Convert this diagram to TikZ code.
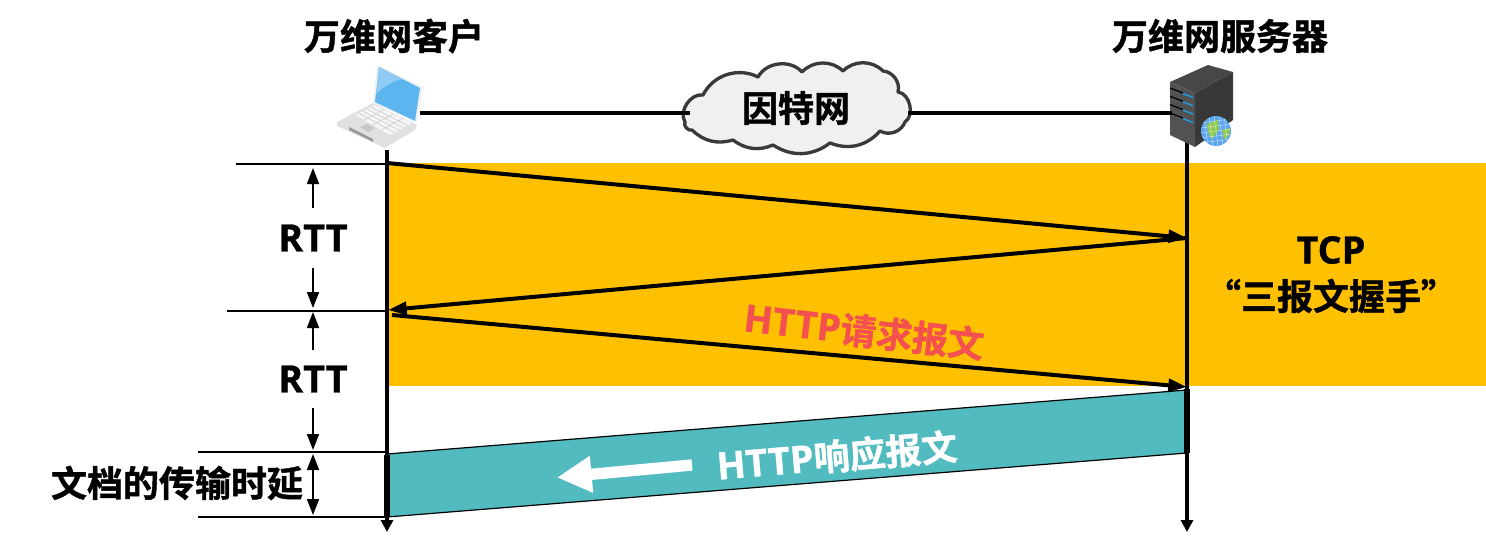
\documentclass[tikz,border=0pt]{standalone}
\usepackage{fontspec}
\setmainfont{Noto Sans CJK SC}[BoldFont={* Bold},BoldFeatures={FakeBold=1.2}]
\newfontfamily\latinb{Open Sans}[Scale=1.05,BoldFont={* Bold},BoldFeatures={FakeBold=0.8}]
\usetikzlibrary{arrows.meta}
\definecolor{orangeband}{HTML}{FFC000}
\definecolor{tealband}{HTML}{52BBC0}
\definecolor{reqred}{HTML}{F4504F}
\definecolor{cloudfill}{HTML}{F0F0F0}
\definecolor{cloudedge}{HTML}{3A3A3A}
\definecolor{screenblue}{HTML}{5DB5F0}
\definecolor{glossblue}{HTML}{8FCBF5}
\definecolor{globeblue}{HTML}{5AA5EE}
\definecolor{globegreen}{HTML}{8CC850}
\definecolor{stripeblue}{HTML}{1E9CE6}
\tikzset{
  x=0.75pt,y=-0.75pt,
  lbl/.style={font=\fontsize{27}{30}\selectfont\bfseries,inner sep=0pt,text=black},
  lifeline/.style={line width=3pt,-{Triangle[length=9pt,width=9pt]}},
  msg/.style={line width=3pt,-{Triangle[length=14pt,width=9.5pt]}},
  rule/.style={line width=1.4pt},
  dim/.style={line width=1.3pt,-{Triangle[length=12pt,width=9pt]}},
  dimboth/.style={line width=1.3pt,{Triangle[length=12pt,width=9pt]}-{Triangle[length=12pt,width=9pt]}},
  link/.style={line width=2.8pt},
  pt/.style={inner sep=0pt,minimum size=0pt}
}
\begin{document}
\begin{tikzpicture}
\useasboundingbox (0,0) rectangle (1486,546);
\fill[orangeband] (387,163) rectangle (1486,386);
\fill[tealband,draw=black,line width=0.9pt] (387,454) -- (1187,390) -- (1187,453) -- (387,517) -- cycle;
% anchors
\coordinate (cT) at (387,150); \coordinate (cE) at (387,532);
\coordinate (sT) at (1187,140); \coordinate (sE) at (1187,532);
\coordinate (c1) at (387,163); \coordinate (s1) at (1187,238);
\coordinate (c2) at (388,310); \coordinate (c2b) at (392,315); \coordinate (s2) at (1187,387);
\coordinate (c3) at (387,452); \coordinate (c4) at (387,517);
\coordinate (r1) at (236,164); \coordinate (r1e) at (387,164);
\coordinate (r2) at (227,311); \coordinate (r2e) at (387,311);
\coordinate (r3) at (198,452); \coordinate (r4) at (198,517);
% lifelines
\draw[lifeline] (cT) -- (cE);
\draw[lifeline] (sT) -- (sE);
\draw[line width=4.5pt] (386.5,455) -- (386.5,517);
\draw[line width=4.5pt] (1187,389) -- (1187,453);
% messages
\draw[msg] (c1) -- (s1);
\draw[msg] (s1) -- (c2);
\draw[msg] (c2b) -- (s2);
% rules
\draw[rule] (r1) -- (r1e);
\draw[rule] (r2) -- (r2e);
\draw[rule] (r3) -- (c3);
\draw[rule] (r4) -- (c4);
% cloud
\node[pt] (cloudL) at (690,113) {};
\node[pt] (cloudR) at (908,113) {};
\draw[fill=cloudfill,draw=cloudedge,line width=2.5pt,line join=round]
 (685,122) to[bend left=65] (703,95) to[bend left=45] (758,77) to[bend left=55] (802,72)
 to[bend left=45] (843,71) to[bend left=45] (883,71) to[bend left=50] (898,92)
 to[bend left=70] (905,122) to[bend left=50] (880,131) to[bend left=35] (830,143)
 to[bend left=35] (773,145) to[bend left=30] (733,140) to[bend left=30] (692,130)
 to[bend left=70] cycle;
\node[lbl] (inet) at (796,108) {因特网};
% laptop
\begin{scope}[shift={(320,50)}]
 \fill[black!12] (17,72) -- (53,53) -- (97,75) -- (95,80) -- (65,98) -- (17,76) -- cycle;
 \fill[black!6] (57,15) -- (103,37) -- (97,72) -- (53,53) -- cycle;
 \fill[black!40] (29,77) -- (53,89) -- (53,92) -- (29,80) -- cycle;
 \fill[black!4] (35,65) -- (55,55) -- (92,73) -- (70,85) -- cycle;
 \foreach \t in {.2,.4,.6,.8}{
  \draw[black!22,line width=.4pt] ({35+\t*20},{65-\t*10}) -- ({70+\t*22},{85-\t*12});
 }
 \foreach \t in {.25,.5,.75}{
  \draw[black!22,line width=.4pt] ({35+\t*35},{65+\t*20}) -- ({55+\t*37},{55+\t*18});
 }
 \fill[black!22] (40,77) -- (47,74) -- (55,78) -- (48,82) -- cycle;
 \fill[screenblue] (59,17) -- (100,38) -- (95,71) -- (55,52) -- cycle;
 \fill[glossblue] (59,17) -- (82,29) .. controls (72,31) and (62,38) .. (56,44) -- cycle;
\end{scope}
\node[pt] (laptop) at (420,113) {};
% server
\begin{scope}[shift={(1140,50)}]
 \fill[black!72] (30,32) -- (68,15) -- (93,22) -- (55,43) -- cycle;
 \fill[black!78] (55,43) -- (93,22) -- (93,70) -- (55,97) -- cycle;
 \fill[black!68] (30,32) -- (55,43) -- (55,97) -- (30,85) -- cycle;
 \foreach \yy in {0,8.3,16.6,25}{
  \draw[black,line width=.9pt] (30,{38+\yy}) -- (43,{43+\yy});
  \draw[stripeblue,line width=1.1pt] (43,{43.5+\yy}) -- (53,{47.5+\yy});
 }
 \fill[globeblue] (76,81) circle[radius=15];
 \fill[globegreen] (67,74) -- (78,70) -- (79,80) -- (72,89) -- (68,83) -- cycle;
 \fill[globegreen] (82,80) -- (90,78) -- (89,85) -- (84,90) -- cycle;
 \begin{scope}
  \clip (76,81) circle[radius=15];
  \foreach \d in {-10,-5,0,5,10}{
   \draw[white,opacity=.55,line width=.4pt] ({61},{81+\d+2}) -- ({91},{81+\d-2});
   \draw[white,opacity=.55,line width=.4pt] ({76+\d-2},{66}) -- ({76+\d+2},{96});
  }
 \end{scope}
\end{scope}
\node[pt] (server) at (1172,113) {};
% links
\draw[link] (laptop) -- (cloudL);
\draw[link] (cloudR) -- (server);
% labels
\node[lbl] (clabel) at (394,36) {万维网客户};
\node[lbl] (slabel) at (1220,36) {万维网服务器};
\node[lbl] (rtta) at (313,238) {\latinb\bfseries RTT};
\node[lbl] (rttb) at (313,379) {\latinb\bfseries RTT};
\node[lbl] (delay) at (177,483) {文档的传输时延};
\node[lbl] (tcp) at (1331,250) {\latinb\bfseries TCP};
\node[lbl] (hs) at (1331,296) {“三报文握手”};
\node[lbl,text=reqred,rotate=-6.5] (req) at (864,331) {\latinb\bfseries HTTP\rmfamily\bfseries 请求报文};
\node[lbl,text=white,rotate=4.8] (resp) at (837,456) {\latinb\bfseries HTTP\rmfamily\bfseries 响应报文};
% dimension arrows
\coordinate (d1) at (313,168); \coordinate (d2) at (313,208);
\coordinate (d3) at (313,308); \coordinate (d4) at (313,268);
\coordinate (d3b) at (313,312); \coordinate (d5) at (313,350);
\coordinate (d6) at (313,450); \coordinate (d7) at (313,408);
\coordinate (d6b) at (313,454); \coordinate (d8) at (313,515);
\draw[dim] (d2) -- (d1);
\draw[dim] (d4) -- (d3);
\draw[dim] (d5) -- (d3b);
\draw[dim] (d7) -- (d6);
\draw[dimboth] (d6b) -- (d8);
% white arrow
\coordinate (wa) at (692,465); \coordinate (wb) at (557,477.5);
\draw[white,line width=8.5pt,-{Triangle[length=26pt,width=26pt]}] (wa) -- (wb);
\end{tikzpicture}
\end{document}
